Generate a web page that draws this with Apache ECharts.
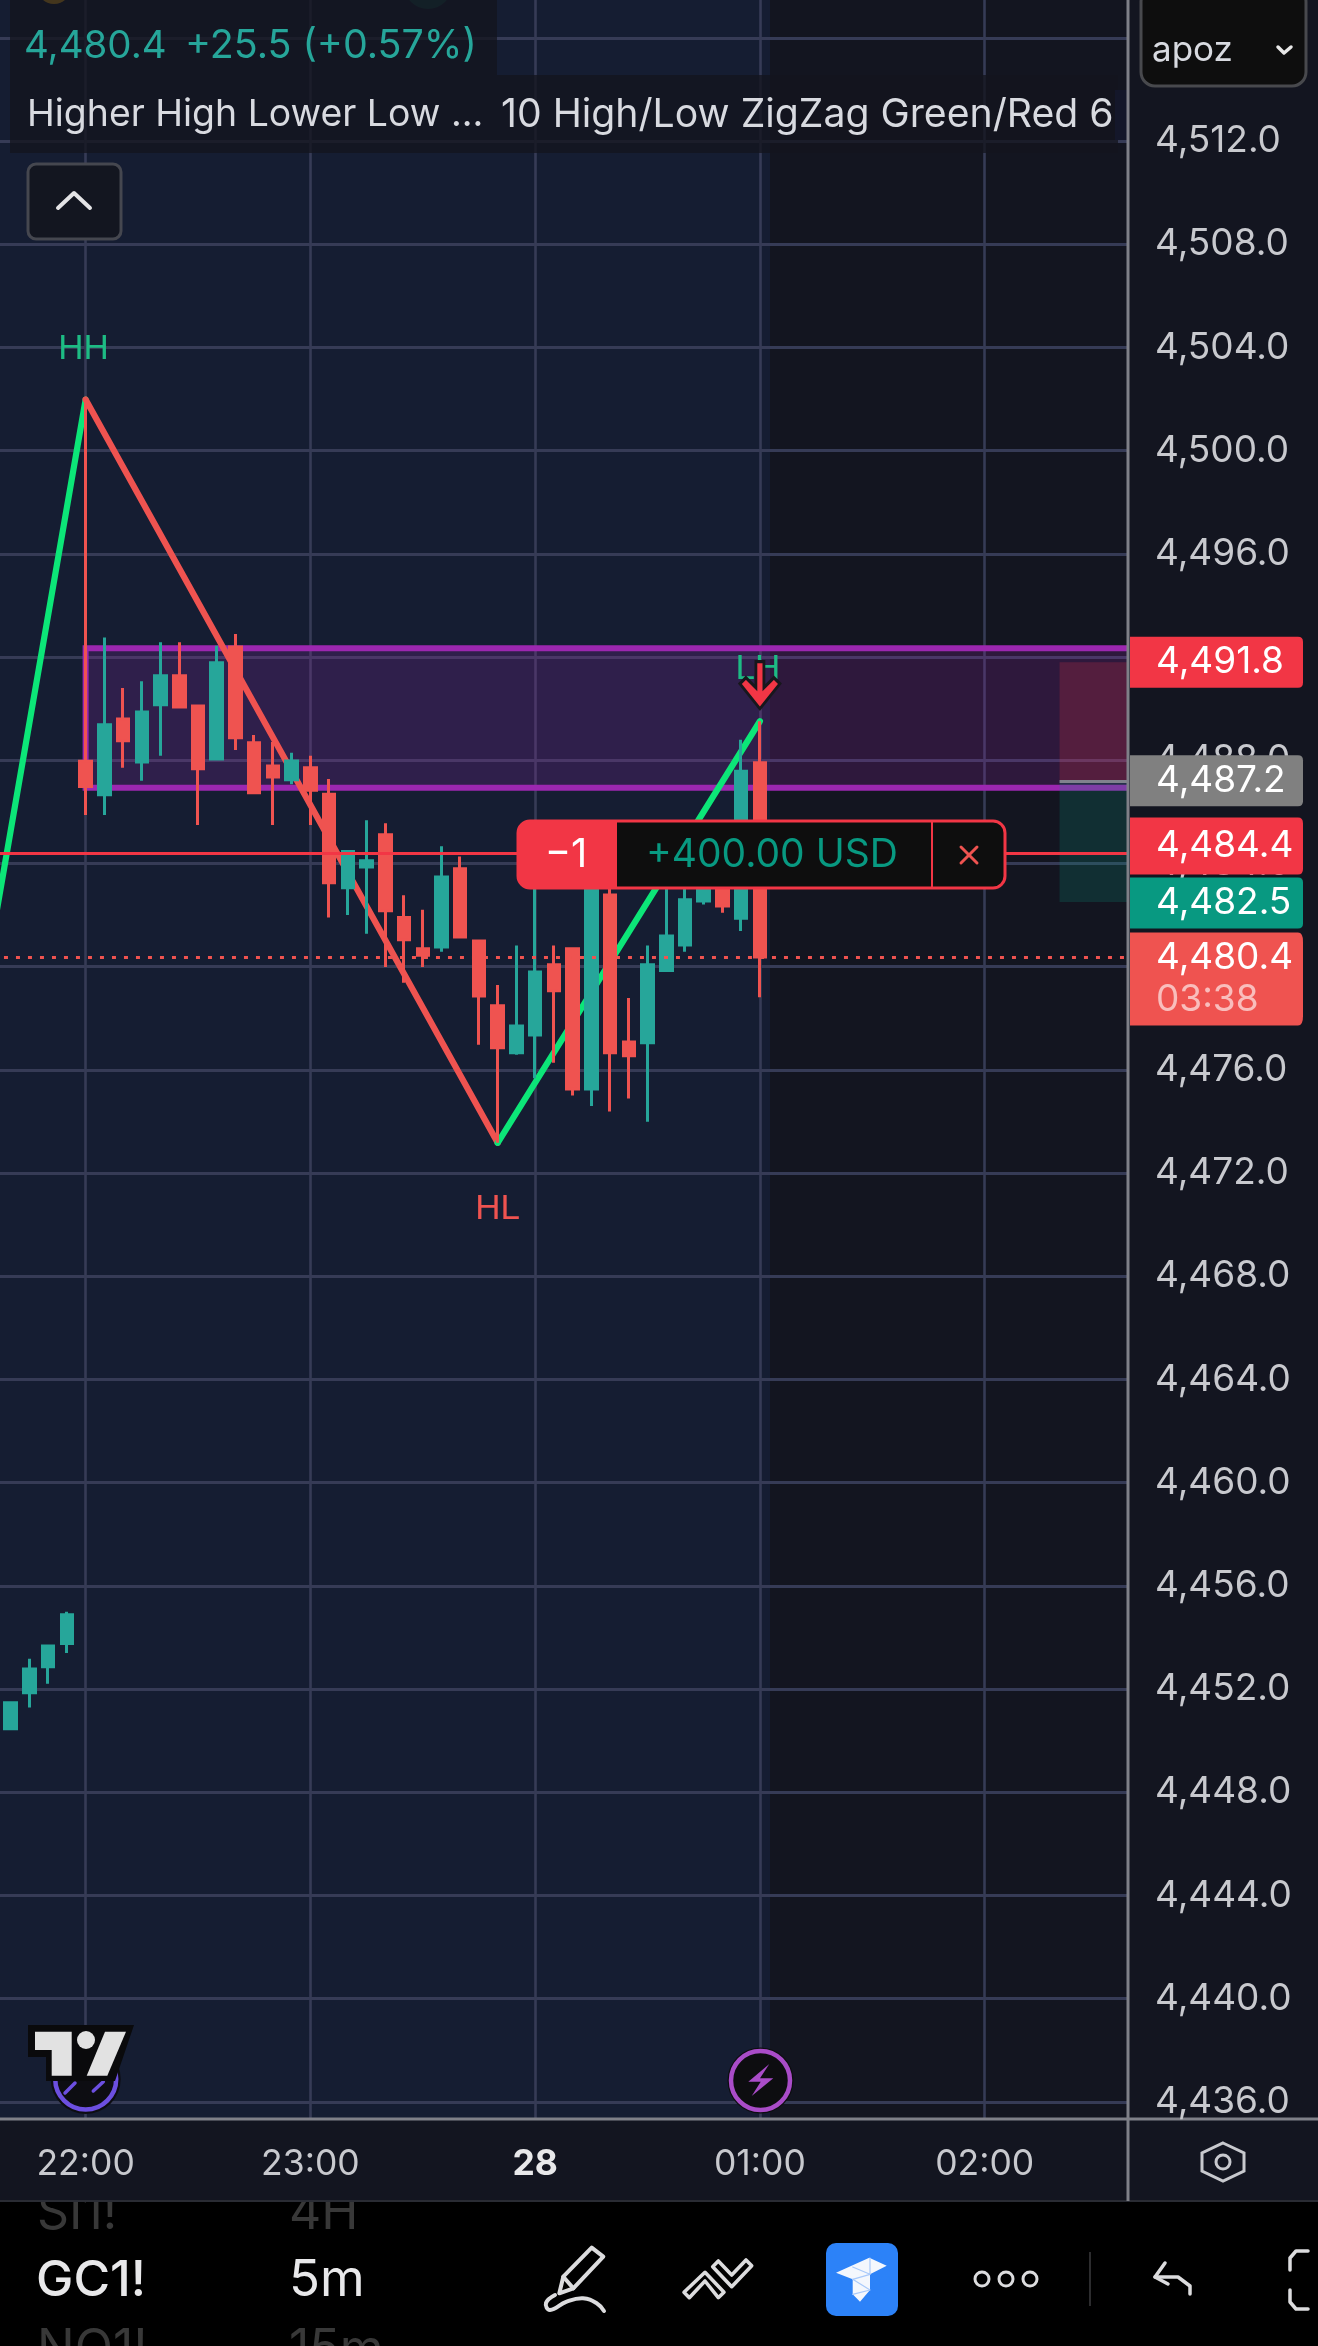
<!DOCTYPE html>
<html>
<head>
<meta charset="utf-8">
<title>GC1! 5m</title>
<style>html,body{margin:0;padding:0;background:#131520}#chart{width:1318px;height:2346px}</style>
<script src="https://cdn.jsdelivr.net/npm/echarts@6/dist/echarts.min.js"></script>
</head>
<body>
<div id="chart"></div>
<script>
// Five-minute slots across the visible session
const slots = ['21:35','21:40','21:45','21:50','21:55',
  '22:00','22:05','22:10','22:15','22:20','22:25','22:30','22:35','22:40','22:45','22:50','22:55',
  '23:00','23:05','23:10','23:15','23:20','23:25','23:30','23:35','23:40','23:45','23:50','23:55',
  '00:00','00:05','00:10','00:15','00:20','00:25','00:30','00:35','00:40','00:45','00:50','00:55',
  '01:00','01:05','01:10','01:15','01:20','01:25','01:30','01:35','01:40','01:45','01:50','01:55',
  '02:00','02:05','02:10','02:15','02:20','02:25','02:30','02:35','02:40'];
const timeTicks = ['22:00','23:00','00:00','01:00','02:00'];
const dayTickSlot = '00:00';
const dayTickLabel = '28';

// OHLC per slot, first slot empty
const opens = [null,
  4450.46,4451.85,4452.86,4453.76,
  4487.96,4486.66,4489.60,4487.93,4490.15,4491.27,4490.10,4488.05,4492.39,4488.68,4487.78,4487.24,
  4487.71,4486.68,4483.06,4483.86,4485.11,4481.90,4480.69,4480.76,4483.79,4480.99,4478.48,4476.66,
  4477.35,4480.07,4480.69,4475.26,4482.78,4477.08,4477.05,4479.85,4480.84,4482.54,4483.42,4481.87,
  4487.90];
const closes = [null,
  4451.47,4452.78,4453.67,4454.88,
  4486.98,4489.37,4488.75,4489.87,4491.27,4490.06,4487.67,4491.78,4488.87,4486.74,4487.35,4487.97,
  4486.84,4483.25,4484.46,4484.10,4482.16,4481.04,4480.44,4483.47,4481.15,4478.86,4476.85,4477.70,
  4479.79,4479.06,4475.26,4484.52,4476.66,4476.54,4480.07,4481.19,4482.59,4483.42,4482.35,4487.57,
  4480.37];
const lows = [null,
  4450.46,4451.28,4452.20,4453.40,
  4485.88,4485.88,4487.71,4487.20,4488.17,4490.06,4485.49,4488.05,4488.40,4486.74,4485.49,4487.07,
  4485.49,4481.90,4482.00,4481.27,4479.98,4479.37,4479.98,4480.58,4481.15,4476.97,4473.17,4476.58,
  4475.67,4476.27,4475.00,4474.60,4474.38,4474.89,4473.99,4479.85,4480.58,4482.41,4482.09,4481.38,
  4478.81];
const highs = [null,
  4451.47,4453.17,4453.67,4454.99,
  4501.98,4492.76,4490.80,4491.06,4492.57,4492.57,4490.10,4492.44,4492.89,4488.98,4488.71,4488.29,
  4488.17,4487.27,4484.46,4485.67,4485.56,4482.77,4482.20,4484.66,4484.27,4480.99,4479.29,4480.82,
  4484.52,4480.82,4480.69,4484.66,4483.03,4478.78,4480.82,4483.69,4483.03,4483.69,4483.69,4488.79,
  4489.51];

// ZigZag pivots
const zigRiseFirst = [['21:35',4481.1],['22:00',4501.98]];
const zigFall = [['22:00',4501.98],['23:50',4473.17]];
const zigRiseSecond = [['23:50',4473.17],['01:00',4489.51]];

// Supply zone and position levels
const zoneTop = 4492.34, zoneBottom = 4486.93;
const stopPrice = 4491.8, entryPrice = 4487.2, positionPrice = 4484.4, targetPrice = 4482.5, lastPrice = 4480.37;
const riskStartSlot = '02:20', lastSlot = '02:40';

const UI = 'Inter, sans-serif';
const bgNavy = '#151d32', bgDark = '#131520';
const gridColor = '#363b56';
const up = '#26a69a', down = '#ef5350', tagRed = '#f23645', tagTeal = '#089981';
const zigGreen = '#0ce678';
const iconInk = '#dcdcde';

const candles = opens.map((o, i) => o === null ? [] : [o, closes[i], lows[i], highs[i]]);

const onTimeTick = (i, name) => timeTicks.includes(name);

const tagShape = 'path://M0 0H168Q173 0 173 5V46Q173 51 168 51H0Z';
function priceTag(price, text, fill, height, shift) {
  return {
    coord: [lastSlot, price],
    symbol: tagShape,
    symbolSize: [173, height],
    symbolOffset: [82, shift],
    itemStyle: { color: fill },
    label: {
      show: true, position: 'insideLeft', distance: 26, formatter: text,
      rich: {
        p: { fontFamily: UI, fontSize: 37, color: '#fff', lineHeight: 42 },
        t: { fontFamily: UI, fontSize: 37, color: 'rgba(255,255,255,0.62)', lineHeight: 42 }
      }
    }
  };
}

function pivotLabel(slot, value, text, color, dx, dy) {
  return {
    coord: [slot, value], symbol: 'circle', symbolSize: 1, itemStyle: { color: 'transparent' },
    label: { show: true, position: 'inside', formatter: text, color, offset: [dx, dy],
      fontFamily: 'Liberation Sans', fontSize: 35 }
  };
}

function zigSeries(points, color, marks) {
  return {
    type: 'line', z: 1.5, data: points, showSymbol: false, silent: true,
    lineStyle: { color, width: 6.2, cap: 'round' },
    markPoint: marks ? { z: 5, silent: true, data: marks, animation: false } : undefined,
    animation: false
  };
}

// Chrome drawn around the plot: side panel, legend rows, position box, toolbar
const txt = (text, x, y, fill, font, extra) => ({ type: 'text', x, y, silent: true,
  style: Object.assign({ text, fill, font, verticalAlign: 'middle', align: 'left' }, extra || {}) });
const box = (x, y, w, h, fill, extra) => ({ type: 'rect', silent: true, shape: Object.assign({ x, y, width: w, height: h }, (extra && extra.shape) || {}),
  style: Object.assign({ fill }, (extra && extra.style) || {}) });
const stroke = (points, color, w) => ({ type: 'polyline', silent: true, shape: { points, smooth: 0 },
  style: { stroke: color, lineWidth: w, fill: null, lineCap: 'round', lineJoin: 'round' } });
const poly = (points, fill, extra) => ({ type: 'polygon', silent: true, shape: { points }, style: Object.assign({ fill }, extra || {}) });
const dot = (cx, cy, r, style) => ({ type: 'circle', silent: true, shape: { cx, cy, r }, style });

const overlay = [
  // price panel
  box(1128, 0, 190, 2119, bgDark),
  // toolbar, with the neighbouring list rows fading out behind it
  box(0, 2201, 1318, 145, '#000000'),
  txt('SI1!', 37, 2214, '#383838', '50px ' + UI),
  txt('4H', 289, 2214, '#383838', '50px ' + UI),
  txt('NO1!', 37, 2350, '#383838', '50px ' + UI),
  txt('15m', 289, 2350, '#383838', '50px ' + UI),
  // time scale strip
  box(0, 2119, 1318, 82, bgDark),
  box(0, 2200, 1318, 2, '#2a2c34'),
  // partial pane icons at the very top
  dot(54, -13, 17, { fill: '#f0ac1c' }),
  dot(428, -15, 24, { fill: '#164a4a' }),
  // legend rows; the long study title is cut off at the row's edge
  box(10, 0, 487, 75, 'rgba(19,21,30,0.78)'),
  box(10, 75, 1108, 78, 'rgba(19,21,30,0.78)'),
  txt('4,480.4', 24, 46, up, '38.5px ' + UI),
  txt('+25.5 (+0.57%)', 185, 46, up, '39.4px ' + UI),
  txt('Higher High Lower Low ...', 27, 115, '#d8dae0', '37.4px ' + UI),
  txt('10 High/Low ZigZag Green/Red 65', 501, 115, '#d8dae0', '39.2px ' + UI),
  box(1115, 90, 13, 50, '#14172a'),
  box(1128, 90, 30, 50, bgDark),
  // collapse button
  box(28, 164, 93, 75, '#131620', { shape: { r: 8 }, style: { stroke: '#45474f', lineWidth: 3 } }),
  stroke([[58, 208], [74, 193], [90, 208]], '#e4e4e6', 4),
  // symbol picker stub
  box(1141, -12, 165, 98, '#0e0e0e', { shape: { r: 14 }, style: { stroke: '#48494d', lineWidth: 3 } }),
  txt('apoz', 1152, 50, '#d8dae0', '35px ' + UI),
  stroke([[1278, 47], [1284, 53], [1291, 47]], '#e8e8e8', 3.5),
  // position box
  box(518, 821, 487, 67, '#0e0e0e', { shape: { r: 12 }, style: { stroke: tagRed, lineWidth: 3 } }),
  box(518, 820, 99, 69, tagRed, { shape: { r: [12, 0, 0, 12] } }),
  txt('\u22121', 566, 855, '#ffffff', '40px ' + UI, { align: 'center' }),
  txt('+400.00 USD', 646, 855, tagTeal, '39px ' + UI),
  { type: 'line', silent: true, shape: { x1: 932, y1: 822, x2: 932, y2: 887 }, style: { stroke: tagRed, lineWidth: 2 } },
  stroke([[961, 847], [977, 863]], down, 3),
  stroke([[977, 847], [961, 863]], down, 3),
  // axis frame lines
  { type: 'line', silent: true, shape: { x1: 1128, y1: 0, x2: 1128, y2: 2201 }, style: { stroke: '#7f8088', lineWidth: 3 } },
  { type: 'line', silent: true, shape: { x1: 0, y1: 2119, x2: 1318, y2: 2119 }, style: { stroke: '#7f8088', lineWidth: 3 } },
  // settings hexagon
  poly([[1223, 2143], [1244, 2153], [1244, 2171], [1223, 2181], [1202, 2171], [1202, 2153]], 'none', { stroke: '#c8c9ce', lineWidth: 3 }),
  dot(1223, 2162, 7, { fill: 'none', stroke: '#c8c9ce', lineWidth: 3 }),
  // session break badge
  dot(760.5, 2080.5, 33, { fill: '#0d0d10' }),
  dot(760.5, 2080.5, 29.5, { fill: '#0d0d10', stroke: '#a94cc8', lineWidth: 4.5 }),
  poly([[769.3, 2064], [748.3, 2081.7], [760.7, 2081.7], [751.7, 2096], [773.3, 2078.3], [760, 2078.3]], '#a94cc8'),
  // watermark badge and logo
  dot(85.7, 2079, 35, { fill: '#0d0d12' }),
  dot(85.7, 2079, 30.5, { fill: '#0d0d12', stroke: '#6c4fe0', lineWidth: 4.5 }),
  stroke([[65, 2093], [75, 2083]], '#6c4fe0', 3.5),
  stroke([[93.3, 2091], [103.3, 2081.7]], '#6c4fe0', 3.5),
  poly([[28, 2025], [134, 2025], [115, 2081], [46, 2081], [46, 2057], [28, 2057]], '#0a0a0c'),
  poly([[35, 2031.7], [71.7, 2031.7], [71.7, 2075.7], [51.7, 2075.7], [51.7, 2050], [35, 2050]], '#e2e2e2'),
  poly([[105, 2031.7], [126, 2031.7], [107.3, 2075.7], [86.7, 2075.7]], '#e2e2e2'),
  dot(86, 2040, 9, { fill: '#e2e2e2' }),
  // toolbar labels
  txt('GC1!', 36, 2281, '#e8e8ea', '500 50px ' + UI),
  txt('5m', 289, 2281, '#e8e8ea', '51px ' + UI),
  // pen tool
  poly([[559.3, 2293.3], [563.3, 2276.7], [591.7, 2247.7], [603.3, 2256.7], [573.3, 2288.3]], 'none', { stroke: iconInk, lineWidth: 4, lineJoin: 'round' }),
  stroke([[563.3, 2276.7], [573.3, 2288.3]], iconInk, 4),
  { type: 'polyline', silent: true, shape: { smooth: 0.45, points: [[555, 2295], [546, 2303], [550, 2310], [566.7, 2301.7], [583, 2298.3], [596.7, 2303.3], [604, 2311]] },
    style: { stroke: iconInk, lineWidth: 4, fill: null, lineCap: 'round' } },
  // pattern tool
  poly([[689.3, 2297.7], [705, 2281], [718.3, 2297.7], [724, 2292.3], [705, 2272.3], [684, 2292.3]], 'none', { stroke: iconInk, lineWidth: 3.6, lineJoin: 'round' }),
  poly([[712.7, 2266.7], [731.7, 2286.7], [751.7, 2265.7], [746, 2260], [731.7, 2275], [718.3, 2261]], 'none', { stroke: iconInk, lineWidth: 3.6, lineJoin: 'round' }),
  // active toolbar button
  box(826, 2243, 72, 73, '#2c82f8', { shape: { r: 10 } }),
  poly([[836, 2272.7], [869.3, 2257.7], [886.7, 2265.7], [870, 2274.3], [870, 2290], [860, 2301.7], [852.7, 2294.3], [852.7, 2279.3]], '#f4f7fd'),
  stroke([[852.7, 2279.3], [870, 2274.3]], '#a8c9fa', 1.2),
  stroke([[852.7, 2267], [870, 2274.3], [870, 2258]], '#a8c9fa', 1.2),
  stroke([[852.7, 2279.3], [870, 2290], [852.7, 2294.3]], '#a8c9fa', 1.2),
  dot(982, 2279, 7, { fill: 'none', stroke: iconInk, lineWidth: 3 }),
  dot(1006, 2279, 7, { fill: 'none', stroke: iconInk, lineWidth: 3 }),
  dot(1030, 2279, 7, { fill: 'none', stroke: iconInk, lineWidth: 3 }),
  { type: 'line', silent: true, shape: { x1: 1090, y1: 2252, x2: 1090, y2: 2306 }, style: { stroke: '#2c2c2e', lineWidth: 2 } },
  // undo arrow
  stroke([[1165, 2263], [1155, 2277], [1168, 2284]], iconInk, 3.5),
  stroke([[1155, 2277], [1178, 2277], [1190, 2286], [1190, 2294]], iconInk, 3.5),
  // fullscreen bracket cut by the window edge
  stroke([[1308, 2251], [1296, 2251], [1290, 2258], [1290, 2270]], iconInk, 3.5),
  stroke([[1290, 2290], [1290, 2302], [1296, 2309], [1308, 2309]], iconInk, 3.5)
];
overlay.forEach(el => { el.z = 40; });

const option = {
  animation: false,
  backgroundColor: bgDark,
  // the price range runs past the visible frame so that it starts on a multiple of the tick step
  grid: { left: -8.03, top: -65.4, width: 1142.53, height: 2270.4, show: false, containLabel: false, outerBoundsMode: 'none' },
  xAxis: [
    {
      type: 'category', data: slots, boundaryGap: false,
      axisLine: { show: false }, axisTick: { show: false }, axisLabel: { show: false },
      splitLine: { show: true, interval: onTimeTick, lineStyle: { color: gridColor, width: 2.6 } }
    },
    {
      type: 'category', data: slots, boundaryGap: false, position: 'bottom', offset: -86, z: 50,
      axisLine: { show: false }, axisTick: { show: false }, splitLine: { show: false },
      axisLabel: {
        interval: onTimeTick, margin: 27, color: '#c8c9ce', fontFamily: UI, fontSize: 35.5,
        formatter: name => name === dayTickSlot ? '{day|' + dayTickLabel + '}' : name,
        rich: { day: { fontFamily: UI, fontSize: 35.5, fontWeight: 700, color: '#e8e8ea' } }
      }
    }
  ],
  yAxis: [
    {
      type: 'value', min: 4432, max: 4520, interval: 4, position: 'left',
      axisLine: { show: false }, axisTick: { show: false }, axisLabel: { show: false },
      splitLine: { show: true, lineStyle: { color: gridColor, width: 2.8 } }
    },
    {
      type: 'value', min: 4432, max: 4520, interval: 4, position: 'right', z: 50,
      axisLine: { show: false }, axisTick: { show: false }, splitLine: { show: false },
      axisLabel: {
        margin: 20.5, color: '#c8c9ce', fontFamily: UI, fontSize: 37,
        formatter: v => (v > 4512 || v < 4436) ? '' :
          v.toLocaleString('en-US', { minimumFractionDigits: 1, maximumFractionDigits: 1 })
      }
    }
  ],
  graphic: { z: 40, elements: overlay },
  series: [
    {
      // navy session backdrop, behind the gridlines
      type: 'line', data: [], silent: true, clip: false,
      markArea: { z: -1, silent: true, itemStyle: { color: bgNavy },
        data: [[{ x: 0, y: 0 }, { x: 770, y: 2119 }]] }
    },
    zigSeries(zigRiseFirst, zigGreen, [pivotLabel('22:00', 4501.98, 'HH', '#1dbb84', -2, -50)]),
    zigSeries(zigFall, down, [pivotLabel('23:50', 4473.17, 'HL', down, 0, 67)]),
    zigSeries(zigRiseSecond, zigGreen, [pivotLabel('01:00', 4489.51, 'LH', '#1dbb84', -2, -52)]),
    {
      name: 'GC1!', type: 'candlestick', z: 2, data: candles, barWidth: 12, silent: true,
      itemStyle: { color: up, color0: down, borderColor: up, borderColor0: down, borderWidth: 3 },
      markArea: {
        z: 1, silent: true,
        data: [
          [{ xAxis: '22:00', yAxis: zoneTop,
             itemStyle: { color: 'rgba(156,39,176,0.2)', borderColor: '#9c27b0', borderWidth: 6 } },
           { xAxis: lastSlot, yAxis: zoneBottom }],
          [{ xAxis: riskStartSlot, yAxis: stopPrice, itemStyle: { color: 'rgba(242,54,69,0.2)' } },
           { xAxis: lastSlot, yAxis: entryPrice }],
          [{ xAxis: riskStartSlot, yAxis: entryPrice, itemStyle: { color: 'rgba(8,153,129,0.2)' } },
           { xAxis: lastSlot, yAxis: targetPrice }]
        ]
      },
      markLine: {
        z: 5, silent: true, symbol: 'none', label: { show: false },
        data: [
          { yAxis: positionPrice, lineStyle: { color: tagRed, width: 3, type: 'solid' } },
          { yAxis: lastPrice, lineStyle: { color: down, width: 3, type: [4, 8] } },
          [{ coord: [riskStartSlot, entryPrice], lineStyle: { color: '#80838d', width: 3, type: 'solid' } },
           { coord: [lastSlot, entryPrice] }]
        ]
      },
      markPoint: {
        z: 6, silent: true,
        data: [{
          coord: ['01:00', highs[41]],
          symbol: 'path://M16 0H24V26L34 16L40 22L20 47L0 22L6 16L16 26Z',
          symbolSize: [40, 47], symbolOffset: [0, -36],
          itemStyle: { color: tagRed, borderColor: '#17171c', borderWidth: 3 },
          label: { show: false }
        }]
      }
    },
    {
      // price tags on the scale, above the tick labels
      type: 'line', data: [], silent: true, yAxisIndex: 0, clip: false,
      markPoint: {
        z: 60, silent: true,
        data: [
          priceTag(stopPrice, '{p|4,491.8}', tagRed, 51, 0),
          priceTag(entryPrice, '{p|4,487.2}', '#808080', 51, 0),
          priceTag(positionPrice, '{p|4,484.4}', tagRed, 57, -7),
          priceTag(targetPrice, '{p|4,482.5}', tagTeal, 51, 1),
          priceTag(lastPrice, '{p|4,480.4}\n{t|03:38}', down, 93, 22)
        ]
      }
    }
  ]
};

const chart = echarts.init(document.getElementById('chart'), null, { renderer: 'canvas' });
chart.setOption(option);
</script>
</body>
</html>
